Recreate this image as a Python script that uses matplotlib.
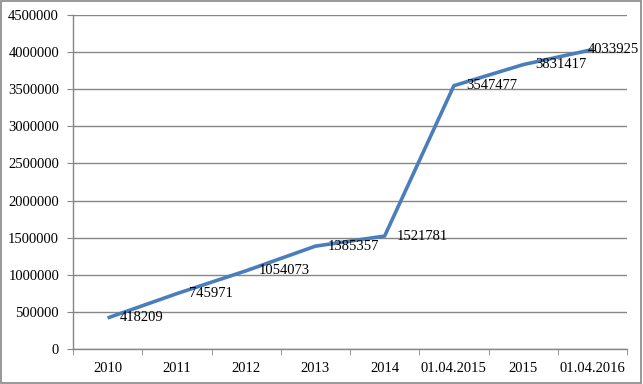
import matplotlib.pyplot as plt
from matplotlib.patches import Rectangle
import numpy as np

# data
categories = ['2010', '2011', '2012', '2013', '2014', '01.04.2015', '2015', '01.04.2016']
values = [418209, 745971, 1054073, 1385357, 1521781, 3547477, 3831417, 4033925]
yticks = list(range(0, 4500001, 500000))

GRAY = '#868686'
LINE = '#4a7ebb'

plt.rcParams['font.family'] = ['Liberation Serif', 'DejaVu Serif']
plt.rcParams['font.size'] = 10.5

fig = plt.figure(figsize=(6.43, 3.84), dpi=100)
ax = fig.add_axes([73/643, 1 - 349/384, 554/643, 334/384])

x = np.arange(len(categories))
ax.plot(x, values, color=LINE, linewidth=2.6, solid_capstyle='butt', zorder=3)

# value labels to the right of each point
for i, v in enumerate(values):
    dx = 9 if i < len(values) - 1 else -3
    ax.annotate(str(v), (x[i], v), xytext=(dx, 0), textcoords='offset points',
                ha='left', va='center', fontsize=10.5, zorder=4, annotation_clip=False)

ax.set_xlim(-0.5, len(categories) - 0.5)
ax.set_ylim(0, 4500000)
ax.set_yticks(yticks)
ax.set_yticklabels([str(t) for t in yticks])
ax.yaxis.grid(True, color=GRAY, linewidth=1)
ax.set_axisbelow(True)

ax.set_xticks(x)
ax.set_xticklabels(categories)
ax.set_xticks(np.arange(len(categories) + 1) - 0.5, minor=True)
ax.tick_params(axis='x', which='major', length=0, pad=9)
ax.tick_params(axis='x', which='minor', length=4, color=GRAY, direction='out')
ax.tick_params(axis='y', length=4, color=GRAY, direction='out', pad=6)

for s in ['top', 'right']:
    ax.spines[s].set_visible(False)
for s in ['left', 'bottom']:
    ax.spines[s].set_color(GRAY)
    ax.spines[s].set_linewidth(1)

# outer chart border
fig.patches.append(Rectangle((0.002, 0.003), 0.995, 0.994, transform=fig.transFigure,
                             fill=False, edgecolor=GRAY, linewidth=1.2))

fig.savefig('out.png', dpi=100)
